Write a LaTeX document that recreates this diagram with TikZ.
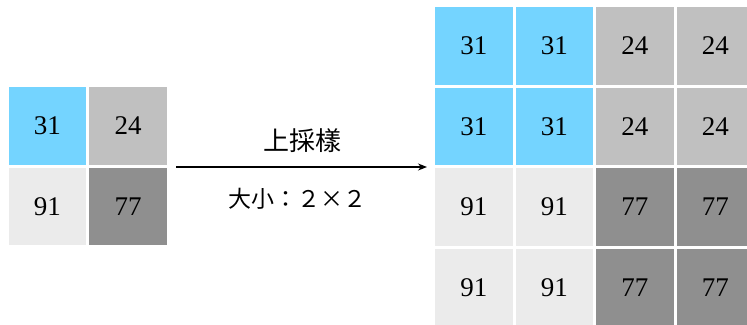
\documentclass[tikz,border=0pt]{standalone}
\usepackage{fontspec}
\setmainfont{Liberation Serif}
\newfontfamily\cjk{Noto Sans CJK TC}
\usetikzlibrary{arrows.meta,positioning}
\definecolor{cellblue}{HTML}{74D4FF}
\definecolor{celllight}{HTML}{EBEBEB}
\definecolor{cellmid}{HTML}{C0C0C0}
\definecolor{celldark}{HTML}{8F8F8F}
\tikzset{
	cell/.style={minimum size=77.5pt, inner sep=0pt, font=\fontsize{27}{27}\selectfont},
	label/.style={font=\cjk\fontsize{23}{23}\selectfont, inner sep=0pt}
}
\begin{document}
\begin{tikzpicture}[x=1pt,y=-1pt]
	\useasboundingbox (0,0) rectangle (747,324);

	% wejscie 2x2
	\node[cell, fill=cellblue] (l-1-1) at (47.5,125.75) {31};
	\node[cell, fill=cellmid] (l-1-2) at (128,125.75) {24};
	\node[cell, fill=celllight] (l-2-1) at (47.5,206.25) {91};
	\node[cell, fill=celldark] (l-2-2) at (128,206.25) {77};

	% wyjscie 4x4
	\foreach \r/\c/\v/\f in {1/1/31/cellblue,1/2/31/cellblue,1/3/24/cellmid,1/4/24/cellmid,
		2/1/31/cellblue,2/2/31/cellblue,2/3/24/cellmid,2/4/24/cellmid,
		3/1/91/celllight,3/2/91/celllight,3/3/77/celldark,3/4/77/celldark,
		4/1/91/celllight,4/2/91/celllight,4/3/77/celldark,4/4/77/celldark} {
		\node[cell, fill=\f] (r-\r-\c) at ({473.75+80.5*(\c-1)},{45.75+80.5*(\r-1)}) {\v};
	}

	% strzalka
	\coordinate (a-start) at (176,167);
	\coordinate (a-end) at (427,167);
	\draw[line width=1.2pt, -{Stealth[length=9pt,width=7pt]}] (a-start) -- (a-end);
	\node[label, font=\cjk\fontsize{26}{26}\selectfont] (up) at (302,141) {上採樣};
	\node[label] (size) at (297,199) {大小：２×２};
\end{tikzpicture}
\end{document}
